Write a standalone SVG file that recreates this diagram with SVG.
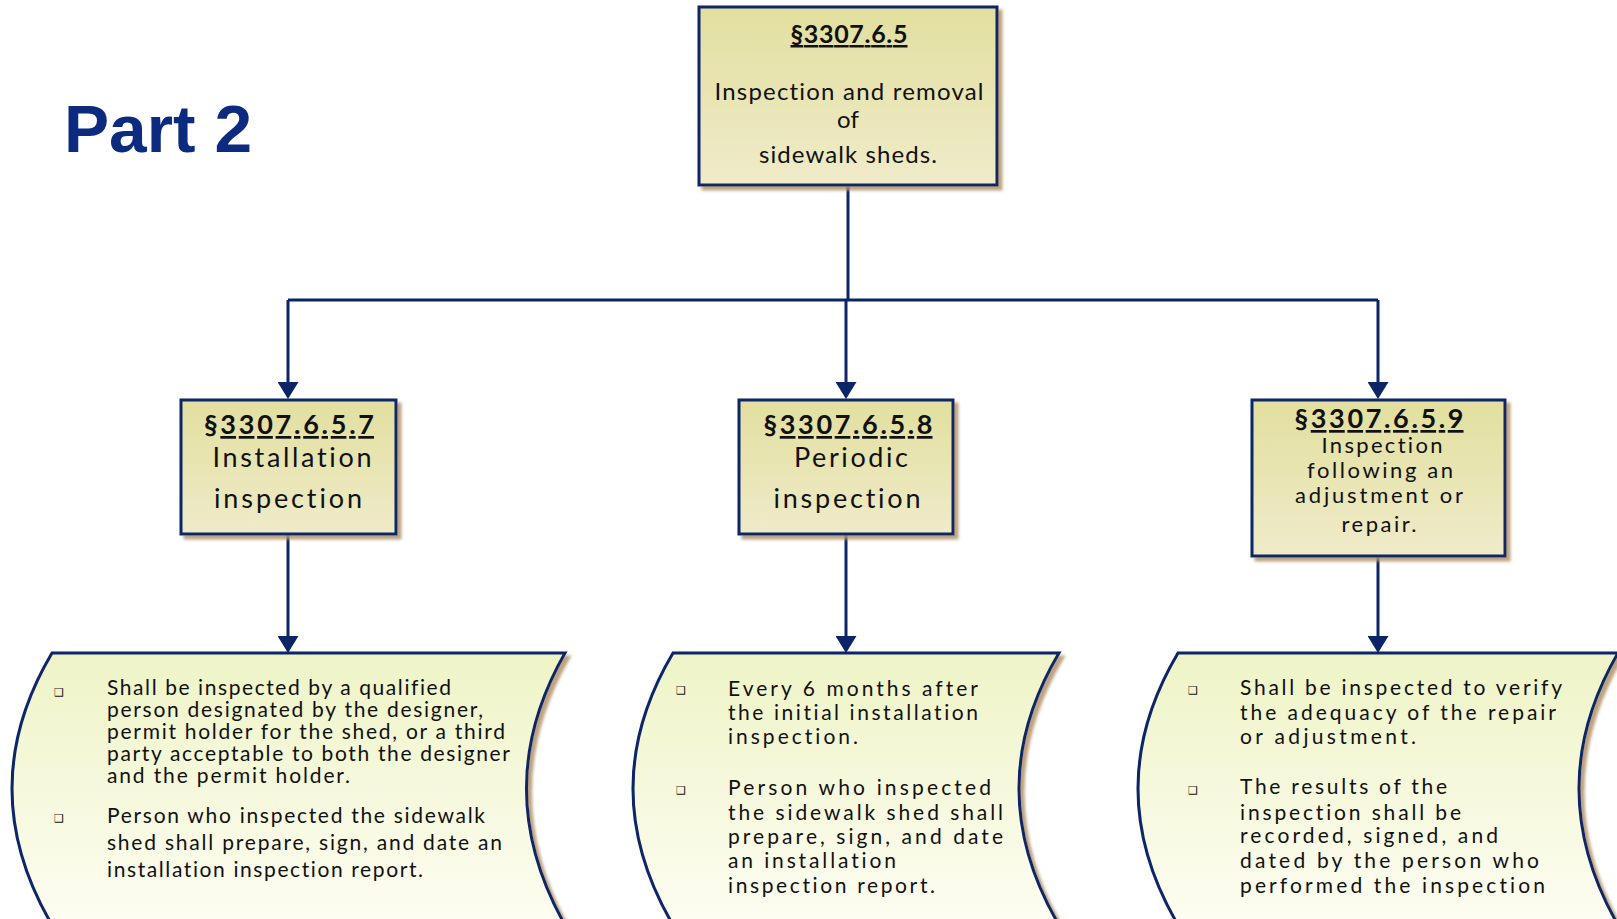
<svg xmlns="http://www.w3.org/2000/svg" width="1617" height="919" viewBox="0 0 1617 919">
<style>
.box{stroke:#0c2566;stroke-width:3;fill:url(#boxFill)}
.wave{stroke:#0c2566;stroke-width:3;fill:url(#waveFill)}
.conn{stroke:#0c2566;stroke-width:3;fill:none}
.t{font-family:Lato,"Liberation Sans",sans-serif;fill:#111;text-anchor:middle;font-variant-ligatures:none}
.h{font-family:Lato,"Liberation Sans",sans-serif;font-weight:bold;fill:#111;text-anchor:middle}
.w{font-family:Lato,"Liberation Sans",sans-serif;font-size:21px;fill:#111;font-variant-ligatures:none}
.b{font-family:"DejaVu Sans",sans-serif;font-size:11px;fill:#111;text-anchor:middle}
.u{text-decoration:underline}
</style>
<defs>
<linearGradient id="boxFill" x1="0" y1="0" x2="0" y2="1">
<stop offset="0" stop-color="#e2df9f"/>
<stop offset="1" stop-color="#efebc9"/>
</linearGradient>
<linearGradient id="waveFill" x1="0" y1="0" x2="0" y2="1">
<stop offset="0" stop-color="#eef4c6"/>
<stop offset="1" stop-color="#fdfdf2"/>
</linearGradient>
<filter id="shadow" x="-5%" y="-5%" width="115%" height="115%">
<feOffset in="SourceAlpha" dx="4" dy="4" result="o"/>
<feGaussianBlur in="o" stdDeviation="1.5" result="b"/>
<feFlood flood-color="#b0936a" flood-opacity="0.85"/>
<feComposite in2="b" operator="in" result="s"/>
<feMerge><feMergeNode in="s"/><feMergeNode in="SourceGraphic"/></feMerge>
</filter>
<marker id="arrow" viewBox="0 0 17 21" refX="9" refY="10.5" markerWidth="17" markerHeight="21" markerUnits="userSpaceOnUse" orient="auto">
<path d="M0,0 L17,10.5 L0,21 z" fill="#0c2566"/>
</marker>
</defs>

<text id="title" x="64" y="152" font-family="'Liberation Sans',Arial,sans-serif" font-weight="bold" font-size="66" fill="#0b2a80" textLength="188" lengthAdjust="spacingAndGlyphs">Part 2</text>

<g id="connectors">
<path class="conn" d="M848,186 V300"/>
<path class="conn" d="M288,300 H1378"/>
<path class="conn" d="M288,300 V391" marker-end="url(#arrow)"/>
<path class="conn" d="M846,300 V391" marker-end="url(#arrow)"/>
<path class="conn" d="M1378,300 V391" marker-end="url(#arrow)"/>
<path class="conn" d="M288,534 V645" marker-end="url(#arrow)"/>
<path class="conn" d="M846,534 V645" marker-end="url(#arrow)"/>
<path class="conn" d="M1378,556 V645" marker-end="url(#arrow)"/>
</g>

<g id="node-top">
<rect class="box" x="699" y="7" width="298" height="178" filter="url(#shadow)"/>
<text class="h" x="849" y="43" font-size="25" textLength="117" lengthAdjust="spacing"><tspan class="u">§3307.6.5</tspan></text>
<text class="t" x="849" y="100" font-size="24" textLength="269" lengthAdjust="spacing">Inspection and removal</text>
<text class="t" x="848" y="128" font-size="24">of</text>
<text class="t" x="848" y="163" font-size="24" textLength="178" lengthAdjust="spacing">sidewalk sheds.</text>
</g>

<g id="node-7">
<rect class="box" x="181" y="400" width="215" height="134" filter="url(#shadow)"/>
<text class="h" x="289" y="434" font-size="27" textLength="170" lengthAdjust="spacing">§<tspan class="u">3307.6.5.7</tspan></text>
<text class="t" x="292" y="467" font-size="27" textLength="159" lengthAdjust="spacing">Installation</text>
<text class="t" x="288" y="508" font-size="27" textLength="148" lengthAdjust="spacing">inspection</text>
</g>

<g id="node-8">
<rect class="box" x="739" y="400" width="214" height="134" filter="url(#shadow)"/>
<text class="h" x="848" y="434" font-size="27" textLength="169" lengthAdjust="spacing">§<tspan class="u">3307.6.5.8</tspan></text>
<text class="t" x="851" y="467" font-size="27" textLength="114" lengthAdjust="spacing">Periodic</text>
<text class="t" x="847" y="508" font-size="27" textLength="147" lengthAdjust="spacing">inspection</text>
</g>

<g id="node-9">
<rect class="box" x="1252" y="400" width="253" height="156" filter="url(#shadow)"/>
<text class="h" x="1379" y="428" font-size="27" textLength="169" lengthAdjust="spacing">§<tspan class="u">3307.6.5.9</tspan></text>
<text class="t" x="1382" y="453" font-size="22" textLength="121" lengthAdjust="spacing">Inspection</text>
<text class="t" x="1380" y="478" font-size="22" textLength="146" lengthAdjust="spacing">following an</text>
<text class="t" x="1379" y="503" font-size="22" textLength="168" lengthAdjust="spacing">adjustment or</text>
<text class="t" x="1379" y="532" font-size="22" textLength="75" lengthAdjust="spacing">repair.</text>
</g>

<g id="wave-7">
<path class="wave" filter="url(#shadow)" d="M52,653 H565 Q488,788 565,925 H52 Q-28,788 52,653 Z"/>
<text class="b" x="59" y="696">❑</text>
<text class="w" x="107" y="695" textLength="344" lengthAdjust="spacing">Shall be inspected by a qualified</text>
<text class="w" x="107" y="717" textLength="376" lengthAdjust="spacing">person designated by the designer,</text>
<text class="w" x="107" y="739" textLength="398" lengthAdjust="spacing">permit holder for the shed, or a third</text>
<text class="w" x="107" y="761" textLength="403" lengthAdjust="spacing">party acceptable to both the designer</text>
<text class="w" x="107" y="783" textLength="243" lengthAdjust="spacing">and the permit holder.</text>
<text class="b" x="59" y="822">❑</text>
<text class="w" x="107" y="823" textLength="378" lengthAdjust="spacing">Person who inspected the sidewalk</text>
<text class="w" x="107" y="850" textLength="395" lengthAdjust="spacing">shed shall prepare, sign, and date an</text>
<text class="w" x="107" y="877" textLength="316" lengthAdjust="spacing">installation inspection report.</text>
</g>

<g id="wave-8">
<path class="wave" filter="url(#shadow)" d="M673,653 H1059 Q979,788 1059,925 H673 Q593,788 673,653 Z"/>
<text class="b" x="681" y="694">❑</text>
<text class="w" x="728" y="696" textLength="250" lengthAdjust="spacing">Every 6 months after</text>
<text class="w" x="728" y="720" textLength="250" lengthAdjust="spacing">the initial installation</text>
<text class="w" x="728" y="744" textLength="130" lengthAdjust="spacing">inspection.</text>
<text class="b" x="681" y="794">❑</text>
<text class="w" x="728" y="795" textLength="263" lengthAdjust="spacing">Person who inspected</text>
<text class="w" x="728" y="820" textLength="275" lengthAdjust="spacing">the sidewalk shed shall</text>
<text class="w" x="728" y="844" textLength="275" lengthAdjust="spacing">prepare, sign, and date</text>
<text class="w" x="728" y="868" textLength="168" lengthAdjust="spacing">an installation</text>
<text class="w" x="728" y="893" textLength="207" lengthAdjust="spacing">inspection report.</text>
</g>

<g id="wave-9">
<path class="wave" filter="url(#shadow)" d="M1178,653 H1618 Q1540,788 1618,925 H1178 Q1098,788 1178,653 Z"/>
<text class="b" x="1193" y="694">❑</text>
<text class="w" x="1240" y="695" textLength="322" lengthAdjust="spacing">Shall be inspected to verify</text>
<text class="w" x="1240" y="720" textLength="316" lengthAdjust="spacing">the adequacy of the repair</text>
<text class="w" x="1240" y="744" textLength="176" lengthAdjust="spacing">or adjustment.</text>
<text class="b" x="1193" y="794">❑</text>
<text class="w" x="1240" y="794" textLength="207" lengthAdjust="spacing">The results of the</text>
<text class="w" x="1240" y="820" textLength="221" lengthAdjust="spacing">inspection shall be</text>
<text class="w" x="1240" y="843" textLength="258" lengthAdjust="spacing">recorded, signed, and</text>
<text class="w" x="1240" y="868" textLength="299" lengthAdjust="spacing">dated by the person who</text>
<text class="w" x="1240" y="893" textLength="305" lengthAdjust="spacing">performed the inspection</text>
</g>
</svg>
